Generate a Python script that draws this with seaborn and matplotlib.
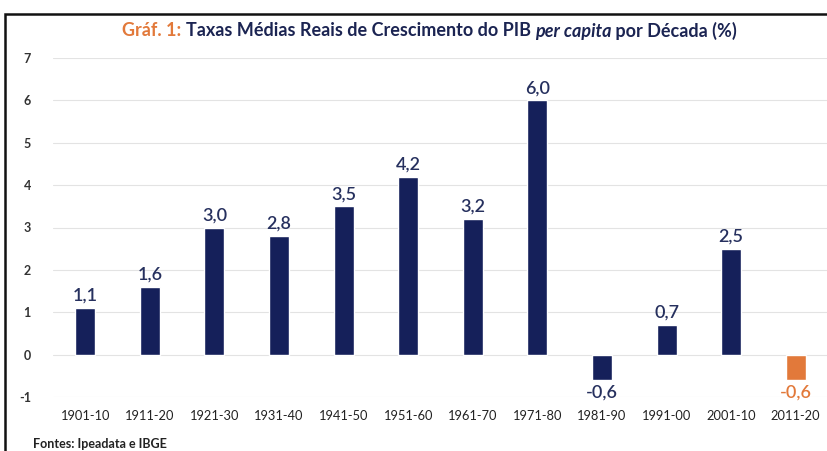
import matplotlib
matplotlib.use("Agg")
import matplotlib.pyplot as plt
import seaborn as sns
import pandas as pd
from matplotlib.patches import Rectangle

decades = ["1901-10", "1911-20", "1921-30", "1931-40", "1941-50", "1951-60",
           "1961-70", "1971-80", "1981-90", "1991-00", "2001-10", "2011-20"]
values = [1.1, 1.6, 3.0, 2.8, 3.5, 4.2, 3.2, 6.0, -0.6, 0.7, 2.5, -0.6]
yticks = [-1, 0, 1, 2, 3, 4, 5, 6, 7]

NAVY = "#15205A"
ORANGE = "#E2793A"
bar_colors = [NAVY] * 11 + [ORANGE]

sns.set_theme(style="white")
plt.rcParams['font.family'] = ['Lato', 'DejaVu Sans']

df = pd.DataFrame({"decada": decades, "valor": values})

fig = plt.figure(figsize=(8.28, 4.51), dpi=100)
ax = fig.add_axes([53/828, 1-397/451, 1-53/828, (397-58)/451])

sns.barplot(data=df, x="decada", y="valor", hue="decada", palette=bar_colors,
            legend=False, width=0.31, ax=ax, saturation=1)

ax.set_ylim(-1, 7)
ax.set_xlim(-0.5, 11.5)
ax.set_yticks(yticks)
ax.set_yticklabels([str(t) for t in yticks], fontsize=9, fontweight='bold', color="#333333")
ax.tick_params(axis='y', length=0, pad=16)
ax.tick_params(axis='x', length=0, pad=9, labelsize=9.3, labelcolor="#222222")
ax.set_xlabel("")
ax.set_ylabel("")
for s in ax.spines.values():
    s.set_visible(False)
ax.grid(axis='y', color="#E3E3E3", linewidth=0.8)
ax.set_axisbelow(True)

for cont, col in zip(ax.containers, bar_colors):
    labels = [f"{v:.1f}".replace(".", ",") for v in cont.datavalues]
    lab_color = ORANGE if col == ORANGE else "#26305E"
    ax.bar_label(cont, labels=labels, padding=3, fontsize=13, color=lab_color,
                 fontweight='semibold')

renderer = fig.canvas.get_renderer()
parts = [("Gráf. 1: ", ORANGE, 'normal'),
         ("Taxas Médias Reais de Crescimento do PIB ", "#1B2452", 'normal'),
         ("per capita", "#1B2452", 'italic'),
         (" por Década (%)", "#1B2452", 'normal')]
x = 122
for txt, c, st in parts:
    tt = fig.text(x/828, 1-31/451, txt, color=c, fontsize=13, fontweight='bold',
                  fontstyle=st, ha='left', va='center')
    bb = tt.get_window_extent(renderer=renderer)
    x += bb.width

fig.text(33/828, 1-444/451, "Fontes: Ipeadata e IBGE", fontsize=9, fontweight='bold',
         color="#222222", ha='left', va='center')

fig.patches.append(Rectangle((5/828, -0.05), 1.2, 1-14/451+0.05, transform=fig.transFigure,
                             fill=False, edgecolor="#111111", linewidth=1.8))

fig.savefig("out.png", dpi=100)
